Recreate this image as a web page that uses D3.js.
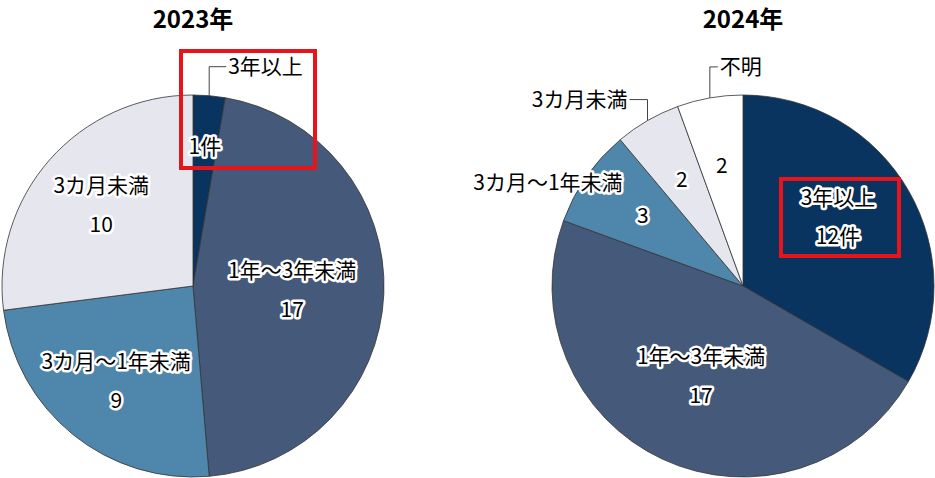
<!DOCTYPE html>
<html>
<head>
<meta charset="utf-8">
<script src="https://cdn.jsdelivr.net/npm/d3@7"></script>
<style>
  body { margin: 0; background: #fff; }
  text { font-family: "Noto Sans CJK JP", "Noto Sans", sans-serif; }
  .halo { paint-order: stroke; stroke: #fff; stroke-width: 5px; stroke-linejoin: round; }
</style>
</head>
<body>
<div id="chart"></div>
<script>
// data
const categories = ['3年以上', '1年～3年未満', '3カ月～1年未満', '3カ月未満', '不明']
const values2023 = [1, 17, 9, 10, 0]
const values2024 = [12, 17, 3, 2, 2]
const years = ['2023年', '2024年']

const colors = ['#08345f', '#455a7a', '#4f87ac', '#e6e7ee', '#ffffff']

const width = 935
const height = 478
const radius = 191

const svg = d3
  .select('#chart')
  .append('svg')
  .attr('width', width)
  .attr('height', height)

const colorScale = d3.scaleOrdinal().domain(categories).range(colors)

const pie = d3.pie().sort(null).value(d => d.value)
const arc = d3.arc().innerRadius(0).outerRadius(radius)

function drawPie(cx, title, values, notes) {
  const rows = categories.map((c, i) => ({ cat: c, value: values[i] }))
  const total = d3.sum(values)
  const slices = pie(rows).filter(d => d.data.value > 0)

  const g = svg.append('g').attr('transform', 'translate(' + cx + ',286)')

  svg
    .append('text')
    .attr('x', cx)
    .attr('y', 28)
    .attr('text-anchor', 'middle')
    .attr('font-size', 24)
    .attr('font-weight', 'bold')
    .text(title)

  g.selectAll('.slice')
    .data(slices)
    .enter()
    .append('path')
    .attr('class', 'slice')
    .attr('d', arc)
    .attr('fill', d => colorScale(d.data.cat))
    .attr('stroke', '#333')
    .attr('stroke-width', 0.8)

  slices.forEach(d => {
    const share = d.data.value / total
    let k = 0.64
    if (share > 0.3) k = 0.52
    if (share < 0.05) k = 0.73
    const mid = (d.startAngle + d.endAngle) / 2
    const note = notes[d.data.cat] || {}
    const shift = note.shift || [0, 0]
    const x = Math.sin(mid) * radius * k + shift[0]
    const y = -Math.cos(mid) * radius * k + shift[1]

    // leader for names drawn outside
    if (note.leader) {
      const ax = Math.sin(mid) * radius
      const ay = -Math.cos(mid) * radius
      const [up, side] = note.leader
      g.append('path')
        .attr('d', 'M' + ax + ',' + ay + 'V' + (ay - up) + 'h' + side)
        .attr('fill', 'none')
        .attr('stroke', '#444')
        .attr('stroke-width', 1)
      g.append('text')
        .attr('x', ax + side + (side > 0 ? 2 : -2))
        .attr('y', ay - up + 7)
        .attr('text-anchor', side > 0 ? 'start' : 'end')
        .attr('font-size', 21)
        .text(d.data.cat)
    }
    if (note.free) {
      const ax = Math.sin(mid) * radius
      const ay = -Math.cos(mid) * radius
      g.append('text')
        .attr('class', 'halo')
        .attr('x', ax + note.free[0])
        .attr('y', ay + note.free[1])
        .attr('text-anchor', 'end')
        .attr('font-size', 21)
        .text(d.data.cat)
    }

    const valueText = d.data.value + (note.unit || '')
    if (note.leader || note.free) {
      g.append('text')
        .attr('class', 'halo')
        .attr('x', x)
        .attr('y', y + 7)
        .attr('text-anchor', 'middle')
        .attr('font-size', 21)
        .text(valueText)
    } else {
      g.append('text')
        .attr('class', 'halo')
        .attr('x', x)
        .attr('y', y - 12)
        .attr('text-anchor', 'middle')
        .attr('font-size', 21)
        .text(d.data.cat)
      g.append('text')
        .attr('class', 'halo')
        .attr('x', x)
        .attr('y', y + 27)
        .attr('text-anchor', 'middle')
        .attr('font-size', 21)
        .text(valueText)
    }
  })
}

drawPie(193, years[0], values2023, {
  '3年以上': { leader: [29, 17], unit: '件' }
})

drawPie(743, years[1], values2024, {
  '3年以上': { unit: '件', shift: [9, -19] },
  '3カ月～1年未満': { free: [36, 14] },
  '3カ月未満': { leader: [21, -18] },
  '不明': { leader: [31, 8] }
})

// red highlight boxes
svg.append('rect')
  .attr('x', 181).attr('y', 51).attr('width', 134).attr('height', 117)
  .attr('fill', 'none').attr('stroke', '#e8141c').attr('stroke-width', 4)
svg.append('rect')
  .attr('x', 781).attr('y', 179).attr('width', 118).attr('height', 77)
  .attr('fill', 'none').attr('stroke', '#e8141c').attr('stroke-width', 4)
</script>
</body>
</html>
